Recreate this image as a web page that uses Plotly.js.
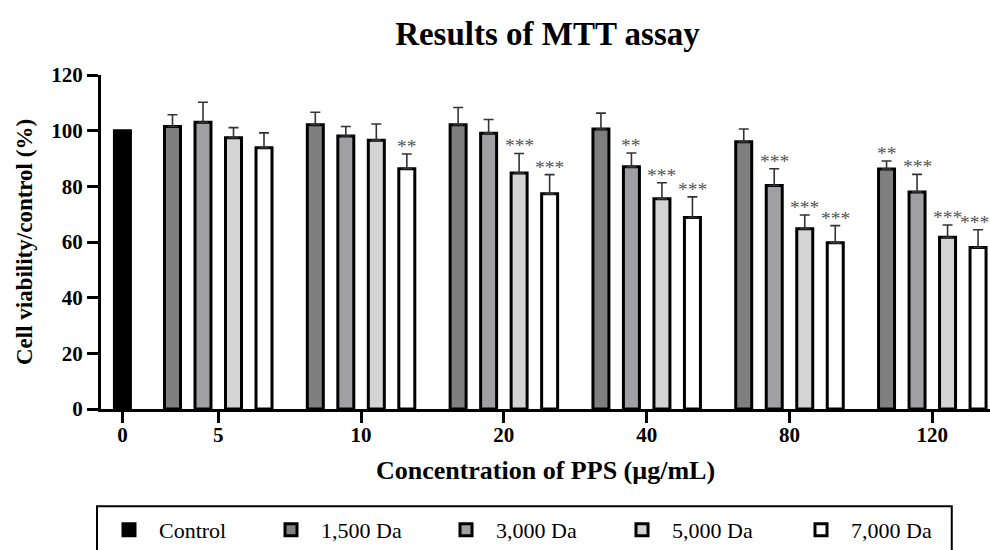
<!DOCTYPE html>
<html>
<head>
<meta charset="utf-8">
<script src="https://cdn.plot.ly/plotly-3.0.1.min.js"></script>
<style>html,body{margin:0;padding:0;background:#fff;}#chart{width:990px;height:550px;}</style>
</head>
<body>
<div id="chart"></div>
<script>
// ---- data ----
const concentrations = ["0", "5", "10", "20", "40", "80", "120"];
const controlName = "Control";
const controlValue = [100];
const seriesNames = ["1,500 Da", "3,000 Da", "5,000 Da", "7,000 Da"];
const da1500 = [101.5, 102.1, 102.1, 100.6, 96.0, 86.2];
const da1500Err = [4.2, 4.5, 6.2, 5.7, 4.6, 2.9];
const da3000 = [103.0, 98.1, 99.1, 87.0, 80.3, 78.0];
const da3000Err = [7.2, 3.4, 4.9, 5.0, 6.0, 6.3];
const da5000 = [97.5, 96.6, 84.8, 75.5, 64.8, 61.7];
const da5000Err = [3.6, 5.8, 7.0, 5.8, 4.9, 4.4];
const da7000 = [93.9, 86.3, 77.3, 68.8, 59.7, 58.0];
const da7000Err = [5.3, 5.3, 6.9, 7.4, 6.2, 6.4];
const sig1500 = ["", "", "", "", "", "**"];
const sig3000 = ["", "", "", "**", "***", "***"];
const sig5000 = ["", "", "***", "***", "***", "***"];
const sig7000 = ["", "**", "***", "***", "***", "***"];

// ---- layout constants ----
const FONT = "Liberation Serif, Times New Roman, serif";
const CONTROL_POS = -0.671;
const SLOT = 0.2136;
const BAR_W = 0.112;
const fills = ["#7f7f7f", "#a0a0a4", "#d4d4d4", "#ffffff"];
const legendX = [99, 261, 436, 612, 791];   // px of each legend entry
const legendNames = ["legend", "legend2", "legend3", "legend4", "legend5"];

const values = [da1500, da3000, da5000, da7000];
const errs = [da1500Err, da3000Err, da5000Err, da7000Err];
const sigs = [sig1500, sig3000, sig5000, sig7000];
const groupLabels = concentrations.slice(1);
const groupPos = groupLabels.map((_, i) => i);

const traces = [{
  type: "bar",
  name: controlName,
  legend: legendNames[0],
  x: [CONTROL_POS],
  y: controlValue,
  width: BAR_W,
  marker: {color: "#000000", line: {color: "#000000", width: 3}},
  hoverinfo: "y"
}];
const annotations = [];
values.forEach((vals, j) => {
  const off = (j - 1.5) * SLOT;
  traces.push({
    type: "bar",
    name: seriesNames[j],
    legend: legendNames[j + 1],
    x: groupPos,
    y: vals,
    offset: off - BAR_W / 2,
    width: BAR_W,
    marker: {color: fills[j], line: {color: "#000000", width: 3}},
    error_y: {type: "data", array: errs[j], arrayminus: vals.map(() => 0), symmetric: false,
              color: "#333333", thickness: 1.6, width: 5},
    hoverinfo: "y"
  });
  sigs[j].forEach((s, i) => {
    if (!s) return;
    const lastOne = (i === groupPos.length - 1 && j === values.length - 1);
    annotations.push({
      x: groupPos[i] + off, y: vals[i] + errs[j][i], xref: "x", yref: "y",
      text: s, showarrow: false, yanchor: "bottom", yshift: -5, xshift: lastOne ? -4 : 0,
      font: {family: FONT, size: 19.5, color: "#555555"}
    });
  });
});

const layout = {
  width: 990, height: 550,
  margin: {l: 101, r: 0, t: 75, b: 140.5},
  paper_bgcolor: "#ffffff", plot_bgcolor: "#ffffff",
  barmode: "overlay",
  showlegend: true,
  title: {text: "Results of MTT assay", font: {family: FONT, size: 33, weight: "bold", color: "#000"},
          x: 0.553, xanchor: "center", y: 0.94, yanchor: "middle", yref: "container"},
  xaxis: {
    range: [-0.821, 5.404], tickmode: "array",
    tickvals: [CONTROL_POS].concat(groupPos), ticktext: concentrations,
    showgrid: false, zeroline: false, showline: true, linecolor: "#000", linewidth: 3,
    ticks: "outside", ticklen: 11, tickwidth: 3, tickcolor: "#000", ticklabelstandoff: -6,
    tickfont: {family: FONT, size: 21, weight: "bold", color: "#000"},
    title: {text: "Concentration of PPS (µg/mL)", font: {family: FONT, size: 26, weight: "bold", color: "#000"}, standoff: 15},
    fixedrange: true
  },
  yaxis: {
    range: [0, 120], dtick: 20, tick0: 0,
    showgrid: false, zeroline: false, showline: true, linecolor: "#000", linewidth: 3,
    ticks: "outside", ticklen: 11, tickwidth: 3, tickcolor: "#000",
    tickfont: {family: FONT, size: 21, weight: "bold", color: "#000"},
    title: {text: "Cell viability/control (%)", font: {family: FONT, size: 23, weight: "bold", color: "#000"}, standoff: 13},
    fixedrange: true
  },
  shapes: [{
    type: "rect", xref: "paper", yref: "paper",
    x0: -0.0045, x1: 0.957, y0: -0.2915, y1: -0.46,
    line: {color: "#000", width: 2}, fillcolor: "rgba(0,0,0,0)"
  }],
  annotations: annotations
};
legendNames.forEach((ln, k) => {
  layout[ln] = {
    orientation: "h", xref: "container", yref: "container",
    x: legendX[k] / 990, xanchor: "left", y: 1 - 509 / 550, yanchor: "top",
    font: {family: FONT, size: 22, color: "#000"},
    itemwidth: 50, bgcolor: "rgba(0,0,0,0)", borderwidth: 0
  };
});

Plotly.newPlot("chart", traces, layout, {displayModeBar: false, staticPlot: true});
</script>
</body>
</html>
